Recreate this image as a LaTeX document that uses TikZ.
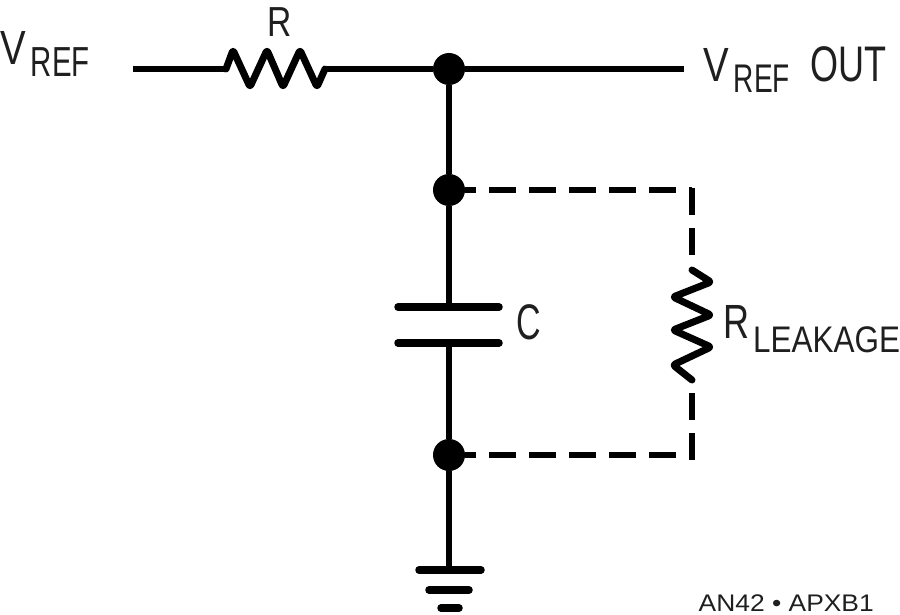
\documentclass[tikz,border=0pt]{standalone}
\usepackage{graphicx}
\usepackage{fontspec}
\setmainfont{Liberation Sans}
\newcommand{\lab}[3]{\scalebox{#1}[1]{\fontsize{#2}{#2}\selectfont #3}}
\begin{document}
\begin{tikzpicture}[x=1pt,y=-1pt,
 wire/.style={line width=6.5pt,black},
 plate/.style={line width=7.5pt,black,line cap=round},
 dash wire/.style={line width=6.5pt,black,dash pattern=on 27pt off 13pt,dash phase=16pt},
 dash vert/.style={line width=6.5pt,black,dash pattern=on 27pt off 13pt},
 res/.style={line width=7pt,black,line join=round,line cap=round,rounded corners=2.5pt},
 dot/.style={circle,fill=black,inner sep=0pt,minimum size=32pt},
 lbl/.style={inner sep=0pt,text=black!88},
 tinylab/.style={inner sep=0pt,text=black!88}]
\useasboundingbox (0,0) rectangle (900,615);
\node[dot] (top) at (449,69) {};
\node[dot] (mid) at (449,190) {};
\node[dot] (low) at (449,455) {};
\coordinate (in) at (133,69);
\coordinate (out) at (684,69);
\coordinate (r1) at (226,69);
\coordinate (r2) at (325,69);
\coordinate (c1) at (449,307);
\coordinate (c2) at (449,343);
\coordinate (gnd) at (449,570);
\coordinate (cr) at (692,190);
\coordinate (cv) at (692,188);
\coordinate (lr) at (692,455);
\coordinate (lv) at (692,460);
\coordinate (rl1) at (692,270);
\coordinate (rl2) at (692,380);
\draw[wire] (in) -- (r1);
\draw[res] (r1) -- (233,50) -- (250,87) -- (267,50) -- (283,87) -- (300,50) -- (317,87) -- (r2);
\draw[wire] (r2) -- (top) -- (out);
\draw[wire] (top) -- (mid) -- (c1);
\draw[plate] (398,307) -- (499,307);
\draw[plate] (398,343) -- (499,343);
\draw[wire] (c2) -- (low) -- (gnd);
\draw[plate] (419,570) -- (481,570);
\draw[plate] (429,590) -- (469,590);
\draw[plate] (441,608) -- (459,608);
\draw[dash wire] (mid) -- (cr);
\draw[dash vert] (cv) -- (rl1);
\draw[dash wire] (low) -- (lr);
\draw[dash vert] (lv) -- (rl2);
\draw[res] (rl1) -- (711,282) -- (673,297) -- (711,315) -- (673,330) -- (711,347) -- (673,365) -- (rl2);
\node[lbl,anchor=base west] (vref) at (0,65) {\lab{0.8}{48}{V}\hspace{5pt}\raisebox{-12pt}{\lab{0.7}{42}{REF}}};
\node[lbl,anchor=base] (rlab) at (280,37) {\lab{0.8}{42}{R}};
\node[lbl,anchor=base west] (vout) at (703,82) {\lab{0.8}{48}{V}\hspace{5pt}\raisebox{-11pt}{\lab{0.7}{40}{REF}}\hspace{21pt}\lab{0.72}{50}{OUT}};
\node[lbl,anchor=base west] (clab) at (516,339) {\lab{0.68}{50}{C}};
\node[lbl,anchor=base west] (rleak) at (723,338) {\lab{0.75}{48}{R}\hspace{4pt}\raisebox{-14pt}{\lab{0.85}{37}{LEAKAGE}}};
\node[tinylab,anchor=base east] (code) at (874,611) {\lab{1.1}{24}{AN42 • APXB1}};
\end{tikzpicture}
\end{document}
